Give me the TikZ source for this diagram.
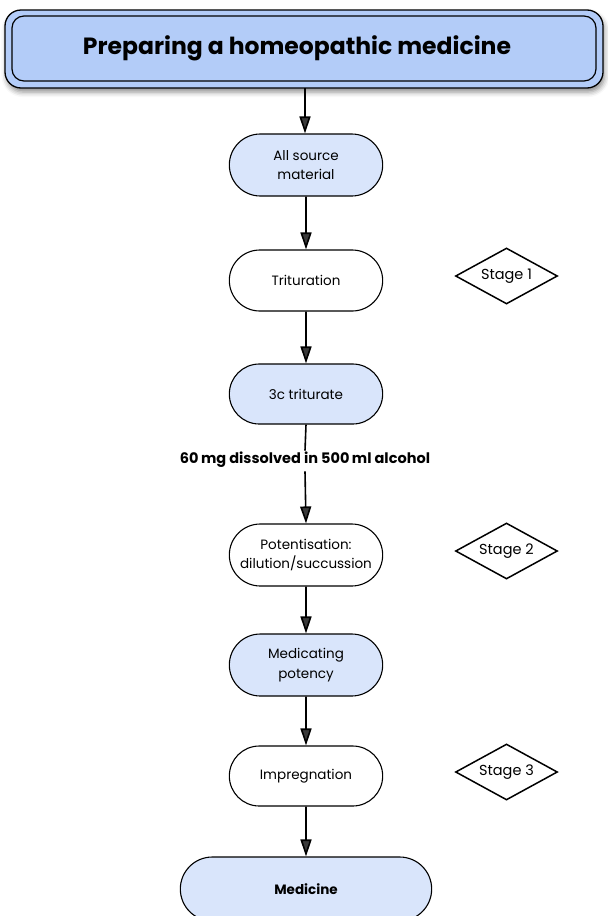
\documentclass[tikz,border=0pt]{standalone}
\usepackage{fontspec}
\setmainfont{Poppins}
\usetikzlibrary{shapes.geometric,shapes.misc,arrows.meta,shadows.blur}
\definecolor{titleblue}{HTML}{B3CCF8}
\definecolor{boxblue}{HTML}{D9E5FB}
\tikzset{
  flow/.style={rounded rectangle, draw=black, line width=1.1pt,
    minimum width=160pt, minimum height=62pt, align=center,
    font=\fontsize{13.5}{19.5}\selectfont},
  bluebox/.style={flow, fill=boxblue},
  whitebox/.style={flow, fill=white},
  stagebox/.style={diamond, draw=black, line width=1.5pt, fill=white, aspect=1.8,
    minimum width=102pt, minimum height=56pt, inner sep=0pt,
    font=\fontsize{14.5}{17}\selectfont},
  link/.style={-{Triangle[length=17pt,width=11pt]}, line width=1.6pt},
}
\begin{document}
\begin{tikzpicture}[x=1pt,y=-1pt]
\useasboundingbox (0,0) rectangle (608,916);
\clip (0,0) rectangle (608,916);
% title banner: double rounded frame with a soft shadow
\filldraw[fill=titleblue, draw=black, line width=1.3pt, rounded corners=16pt,
  blur shadow={shadow xshift=1.5pt, shadow yshift=-4pt, shadow blur radius=5pt, shadow opacity=45}]
  (5,10) rectangle (603,88);
\draw[black, line width=1.2pt, rounded corners=12pt] (12,16) rectangle (596,81);
\node[font=\bfseries\fontsize{23.5}{28}\selectfont] (title) at (297,48) {Preparing a homeopathic medicine};
\coordinate (titlebot) at (305,88);

\node[bluebox] (src) at (306,165) {All source\\material};
\node[whitebox, minimum height=61pt] (trit) at (306,280.5) {Trituration};
\node[bluebox, minimum height=60pt] (tri3) at (306,394) {3c triturate};
\node[font=\bfseries\fontsize{14.5}{17}\selectfont] (diss) at (305,460) {60\,mg dissolved in 500\,ml alcohol};
\node[whitebox] (pot) at (306,555) {Potentisation:\\dilution/succussion};
\node[bluebox] (med) at (306,665) {Medicating\\potency};
\node[whitebox, minimum height=60pt] (imp) at (306,776) {Impregnation};
\node[bluebox, minimum width=258pt, minimum height=64pt, font=\bfseries\fontsize{13.5}{16}\selectfont] (medicine) at (306,889) {Medicine};

\node[stagebox] (s1) at (506.5,276) {Stage 1};
\node[stagebox] (s2) at (506.5,551) {Stage 2};
\node[stagebox] (s3) at (506.5,772) {Stage 3};

\draw[link] (titlebot) -- (titlebot |- src.north);
\draw[link] (src) -- (trit);
\draw[link] (trit) -- (tri3);
\draw[line width=1.6pt] (tri3.south) -- ([yshift=-2pt]diss.north);
\draw[link] (diss.south) -- (pot.north);
\draw[link] (pot) -- (med);
\draw[link] (med) -- (imp);
\draw[link] (imp) -- (medicine);
\end{tikzpicture}
\end{document}
